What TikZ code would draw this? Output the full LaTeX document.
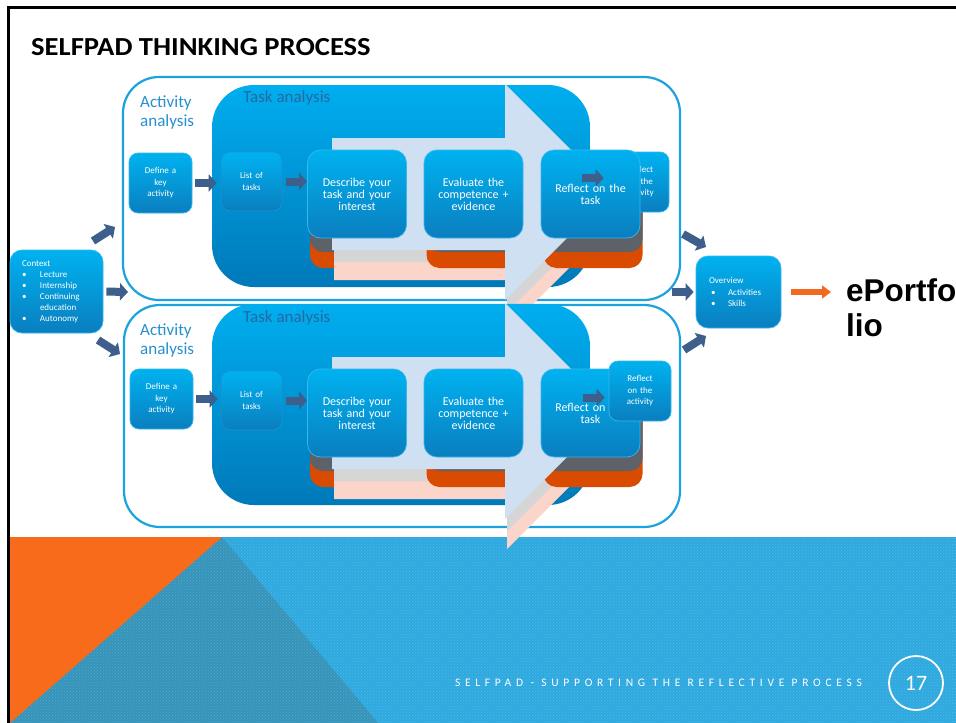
\documentclass[tikz,border=0pt]{standalone}
\usepackage{fontspec}
\setmainfont{Carlito}
\newfontfamily\eportfont{Liberation Sans}
\newfontfamily\footfont{Carlito}[LetterSpace=41]
\usetikzlibrary{arrows.meta,patterns}
\definecolor{boxtop}{HTML}{00B2F0}
\definecolor{boxbot}{HTML}{0A7EBF}
\definecolor{boxedge}{HTML}{35B8EE}
\definecolor{listedge}{HTML}{1E93CF}
\definecolor{tasktop}{HTML}{00AEEF}
\definecolor{taskbot}{HTML}{0079B9}
\definecolor{outerc}{HTML}{1CA3DE}
\definecolor{actc}{HTML}{2690CF}
\definecolor{taskc}{HTML}{2668A0}
\definecolor{arrowc}{HTML}{3E5E8B}
\definecolor{stackgrey}{HTML}{5E6167}
\definecolor{stackorange}{HTML}{D84B00}
\definecolor{layerlight}{HTML}{CEE0F1}
\definecolor{layergrey}{HTML}{D5D5D5}
\definecolor{layerpink}{HTML}{FBD4CA}
\definecolor{bandblue}{HTML}{2EA9E0}
\definecolor{banddark}{HTML}{3594BA}
\definecolor{bandorange}{HTML}{F86B1B}
\definecolor{eorange}{HTML}{F26A1F}
\newcommand\mybul{\makebox[18pt][l]{\textbullet}}
\newcommand\mybulo{\makebox[19pt][l]{\hspace{2pt}\textbullet}}
\tikzset{
  blubox/.style={draw=boxedge, line width=0.7pt, rounded corners=9pt, top color=boxtop, bottom color=boxbot, text=white, align=center, inner sep=0pt},
  bigbox/.style={blubox, rounded corners=13pt, minimum width=99pt, minimum height=88pt, text width=86pt, font=\fontsize{12}{12}\selectfont},
  smallbox/.style={blubox, minimum width=63pt, minimum height=60pt, text width=52pt, font=\fontsize{9}{11.5}\selectfont},
  outerbox/.style={draw=outerc, line width=2.2pt, rounded corners=36pt, inner sep=0pt},
  taskbox/.style={rounded corners=42pt, top color=tasktop, bottom color=taskbot, inner sep=0pt},
  stacko/.style={fill=stackorange, rounded corners=13pt, inner sep=0pt, minimum width=99pt, minimum height=88pt},
  stackg/.style={fill=stackgrey, rounded corners=13pt, inner sep=0pt, minimum width=99pt, minimum height=88pt},
  acttext/.style={anchor=north west, inner sep=0pt, align=left, text=actc, font=\fontsize{17}{19}\selectfont},
  tasktext/.style={anchor=north west, inner sep=0pt, text=taskc, font=\fontsize{17}{19}\selectfont},
  barrow/.style={line width=8pt, arrowc, -{Triangle[length=8pt,width=17pt]}},
  oarrow/.style={line width=6pt, eorange, -{Triangle[length=9pt,width=13pt]}},
  bigarr/.pic={\path[pic actions] (0,54) -- (173,54) -- (173,0) -- (281,108) -- (173,216) -- (173,166) -- (0,166) -- cycle;}
}
\begin{document}
\begin{tikzpicture}[x=1pt,y=-1pt]
\useasboundingbox (0,0) rectangle (956,723);
\clip (0,0) rectangle (956,723);
\fill[white] (0,0) rectangle (956,723);
% bottom band
\fill[bandblue] (10,537) rectangle (970,740);
\fill[banddark] (222,537) -- (384,730) -- (0,730) -- cycle;
\fill[pattern=crosshatch dots, pattern color=white, opacity=0.18] (10,537) rectangle (970,740);
\fill[bandorange] (10,537) -- (222,537) -- (10,723) -- cycle;
% frame
\draw[line width=3pt, black] (8.5,740) -- (8.5,7.5) -- (970,7.5);
% title
\node[anchor=base west, inner sep=0pt, font=\bfseries\fontsize{26}{26}\selectfont] (title) at (31,55) {\scalebox{1.1}[1]{SELFPAD THINKING PROCESS}};

% ================= upper row
\node[outerbox, minimum width=557pt, minimum height=223pt] (outer1) at (401.5,188.5) {};
\node[acttext] (aa1) at (140,96) {Activity\\analysis};
\node[taskbox, minimum width=378pt, minimum height=202pt] (task1) at (401,186) {};
\node[tasktext] (ta1) at (243,90) {Task analysis};
\node[smallbox] (def1) at (160.5,183) {Define a\\key\\activity};
\node[smallbox, draw=listedge, minimum width=61pt, minimum height=59pt] (list1) at (251.5,181.5) {List of\\tasks};
\node[stacko] (so1) at (359.5,224) {};
\node[stackg] (sg1) at (359.5,208) {};
\pic[fill=layerpink] at (334,114) {bigarr};
\pic[fill=layergrey] at (334,96) {bigarr};
\node[stacko] (so2) at (476,224) {};
\node[stackg] (sg2) at (476,208) {};
\node[stacko] (so3) at (593,224) {};
\node[stackg] (sg3) at (593,208) {};
\pic[fill=layerlight] at (332,84) {bigarr};
\node[smallbox, minimum width=57pt, text width=48pt] (act1) at (640.5,182) {Reflect\\on the\\activity};
\node[bigbox] (refl1) at (590.5,194) {Reflect on the\\task};
\node[bigbox] (desc1) at (357,194) {Describe your\\task and your\\interest};
\node[bigbox] (eval1) at (473.5,194) {Evaluate the\\competence +\\evidence};
\draw[barrow, shorten <=3pt, shorten >=4pt] (def1.east) -- (def1.east -| list1.west);
\draw[barrow, shorten <=4pt] (list1.east) -- (list1.east -| desc1.west);
\coordinate (ra1) at (582,178);
\draw[barrow, shorten >=8pt] (ra1) -- (ra1 -| act1.west);

% ================= lower row
\node[outerbox, minimum width=556pt, minimum height=222pt] (outer2) at (402,416) {};
\node[acttext] (aa2) at (140,324) {Activity\\analysis};
\node[taskbox, minimum width=378pt, minimum height=201pt] (task2) at (401,404.5) {};
\node[tasktext] (ta2) at (243,310) {Task analysis};
\node[smallbox] (def2) at (161.5,399) {Define a\\key\\activity};
\node[smallbox, draw=listedge, minimum width=61pt, minimum height=59pt] (list2) at (251.5,400.5) {List of\\tasks};
\node[stacko] (so4) at (359.5,443) {};
\node[stackg] (sg4) at (359.5,427) {};
\pic[fill=layerpink] at (334,333) {bigarr};
\pic[fill=layergrey] at (334,315) {bigarr};
\node[stacko] (so5) at (476,443) {};
\node[stackg] (sg5) at (476,427) {};
\node[stacko] (so6) at (593,443) {};
\node[stackg] (sg6) at (593,427) {};
\pic[fill=layerlight] at (332,303) {bigarr};
\node[bigbox] (desc2) at (357,413) {Describe your\\task and your\\interest};
\node[bigbox] (eval2) at (473.5,413) {Evaluate the\\competence +\\evidence};
\node[bigbox] (refl2) at (590.5,413) {Reflect on the\\task};
\node[smallbox, minimum width=62pt, text width=50pt] (act2) at (640,391) {Reflect\\on the\\activity};
\draw[barrow, shorten <=3pt, shorten >=3pt] (def2.east) -- (def2.east -| list2.west);
\draw[barrow, shorten <=4pt] (list2.east) -- (list2.east -| desc2.west);
\coordinate (ra2) at (583,397.5);
\draw[barrow, shorten >=4pt] (ra2) -- (ra2 -| act2.west);

% ================= context
\node[blubox, rounded corners=12pt, minimum width=93pt, minimum height=83pt, text width=69pt, inner xsep=12pt, align=left, font=\fontsize{9}{11}\selectfont] (ctx) at (56.5,291.5)
  {Context\\\mybul Lecture\\\mybul Internship\\\mybul Continuing\\\hspace*{18pt}education\\\mybul Autonomy};
\coordinate (cua) at (93,241);
\coordinate (cub) at (115,227);
\coordinate (cmb) at (128,292);
\coordinate (cda) at (98,340);
\coordinate (cdb) at (120,354);
\draw[barrow] (cua) -- (cub);
\draw[barrow, shorten <=3pt] (ctx.east) -- (cmb);
\draw[barrow] (cda) -- (cdb);

% ================= overview
\node[blubox, rounded corners=12pt, minimum width=85pt, minimum height=72pt, text width=59pt, inner xsep=13pt, align=left, font=\fontsize{9}{11.5}\selectfont] (ovw) at (738.5,292)
  {Overview\\\mybulo Activities\\\mybulo Skills};
\coordinate (oua) at (683,234);
\coordinate (oub) at (706,247);
\coordinate (oma) at (672,292);
\coordinate (oda) at (684,350);
\coordinate (odb) at (706,336);
\draw[barrow] (oua) -- (oub);
\draw[barrow, shorten >=2pt] (oma) -- (ovw.west);
\draw[barrow] (oda) -- (odb);

\node[anchor=north west, inner sep=0pt, align=left, font=\eportfont\bfseries\fontsize{31.5}{35.5}\selectfont] (eport) at (846,278) {ePortfo\\lio};
\draw[oarrow, shorten <=10pt, shorten >=15pt] (ovw.east) -- (ovw.east -| eport.west);

% ================= footer
\node[text=white, inner sep=0pt, font=\footfont\fontsize{11.5}{11.5}\selectfont] (foot) at (658.5,683) {SELFPAD - SUPPORTING THE REFLECTIVE PROCESS};
\node[circle, draw=white, line width=1.8pt, minimum size=54pt, inner sep=0pt, text=white, font=\fontsize{22}{22}\selectfont] (pg) at (916,683) {17};
\end{tikzpicture}
\end{document}
